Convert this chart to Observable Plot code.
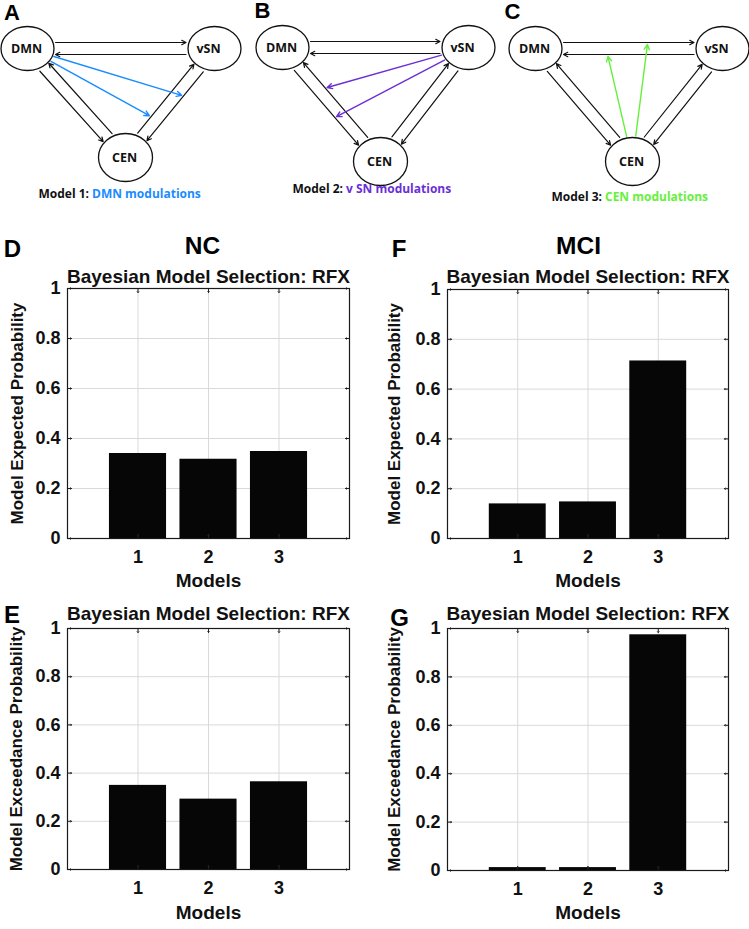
<!DOCTYPE html>
<html><head><meta charset="utf-8">
<script src="https://cdn.jsdelivr.net/npm/d3@7"></script>
<script src="https://cdn.jsdelivr.net/npm/@observablehq/plot@0.6"></script>
<style>
html,body{margin:0;padding:0;background:#fff;}
#root{position:relative;width:749px;height:929px;overflow:hidden;background:#fff;}
.panel{position:absolute;}
.panel svg{display:block;overflow:visible;}
</style></head><body><div id="root"></div>
<script>
// ---------------- data ----------------
const models = [1, 2, 3];
const modelTickLabels = ["1", "2", "3"];
const yTicks = [0, 0.2, 0.4, 0.6, 0.8, 1];
const ncExpected = [0.340, 0.317, 0.348];
const ncExceedance = [0.349, 0.292, 0.364];
const mciExpected = [0.139, 0.147, 0.713];
const mciExceedance = [0.012, 0.012, 0.974];
const plotTitle = "Bayesian Model Selection: RFX";
const xLabel = "Models";
const yLabelExpected = "Model Expected Probability";
const yLabelExceedance = "Model Exceedance Probability";

// network diagrams
const nodeNames = ["DMN", "vSN", "CEN"];
const nodes = [
  {panel: "A", name: "DMN", x: 27, y: 48},
  {panel: "A", name: "vSN", x: 214, y: 48},
  {panel: "A", name: "CEN", x: 125, y: 157},
  {panel: "B", name: "DMN", x: 282, y: 47},
  {panel: "B", name: "vSN", x: 468, y: 47},
  {panel: "B", name: "CEN", x: 380, y: 161},
  {panel: "C", name: "DMN", x: 535, y: 48},
  {panel: "C", name: "vSN", x: 722, y: 48},
  {panel: "C", name: "CEN", x: 632, y: 161}
];
const connections = [
  {from: "DMN", to: "vSN", side: -1},
  {from: "vSN", to: "DMN", side: 1},
  {from: "DMN", to: "CEN", side: 1},
  {from: "CEN", to: "DMN", side: -1},
  {from: "CEN", to: "vSN", side: 1},
  {from: "vSN", to: "CEN", side: -1}
];
const modulations = [
  {panel: "A", from: "DMN", on: ["vSN", "CEN"], t: 0.40},
  {panel: "A", from: "DMN", on: ["CEN", "vSN"], t: 0.34},
  {panel: "B", from: "vSN", on: ["CEN", "DMN"], t: 0.61},
  {panel: "B", from: "vSN", on: ["DMN", "CEN"], t: 0.58},
  {panel: "C", from: "CEN", on: ["vSN", "DMN"], t: 0.615},
  {panel: "C", from: "CEN", on: ["DMN", "vSN"], t: 0.60}
];
const panelColors = {A: "#1a8cff", B: "#6b2fd6", C: "#66f03c"};
const captions = [
  {panel: "A", prefix: "Model 1:", name: "DMN modulations", x: 90, y: 194},
  {panel: "B", prefix: "Model 2:", name: "v SN modulations", x: 344, y: 189},
  {panel: "C", prefix: "Model 3:", name: "CEN modulations", x: 603, y: 197}
];
const panelLetters = [
  {letter: "A", x: 11.5, y: 12.5},
  {letter: "B", x: 262, y: 10.5},
  {letter: "C", x: 512, y: 11}
];

// ---------------- geometry helpers ----------------
const nodeRadii = {DMN: [26.5, 22], vSN: [27, 22], CEN: [27, 24]};
const ellipseSymbol = (rx, ry) => ({
  draw(ctx) {
    const k = 0.5523;
    ctx.moveTo(rx, 0);
    ctx.bezierCurveTo(rx, ry * k, rx * k, ry, 0, ry);
    ctx.bezierCurveTo(-rx * k, ry, -rx, ry * k, -rx, 0);
    ctx.bezierCurveTo(-rx, -ry * k, -rx * k, -ry, 0, -ry);
    ctx.bezierCurveTo(rx * k, -ry, rx, -ry * k, rx, 0);
    ctx.closePath();
  }
});
const P = (panel, name) => nodes.find(n => n.panel === panel && n.name === name);
const rad = (name, ux, uy) => {
  const [rx, ry] = nodeRadii[name];
  return 1 / Math.sqrt((ux / rx) ** 2 + (uy / ry) ** 2);
};
const OFF = 6;
function pairNormal(panel, a, b) {
  const [ca, cb] = nodeNames.indexOf(a) < nodeNames.indexOf(b) ? [a, b] : [b, a];
  const A = P(panel, ca), B = P(panel, cb);
  const L = Math.hypot(B.x - A.x, B.y - A.y);
  const dx = (B.x - A.x) / L, dy = (B.y - A.y) / L;
  return [-dy, dx];
}
const panels = ["A", "B", "C"];
const blackArrows = [];
for (const p of panels) {
  for (const c of connections) {
    const F = P(p, c.from), T = P(p, c.to);
    const L = Math.hypot(T.x - F.x, T.y - F.y);
    const ux = (T.x - F.x) / L, uy = (T.y - F.y) / L;
    const [nx, ny] = pairNormal(p, c.from, c.to);
    const o = c.side * OFF;
    const r1 = rad(c.from, ux, uy) + 1.5, r2 = rad(c.to, ux, uy) + 1.5;
    blackArrows.push({
      x1: F.x + nx * o + ux * r1, y1: F.y + ny * o + uy * r1,
      x2: T.x + nx * o - ux * r2, y2: T.y + ny * o - uy * r2
    });
  }
}
const colorArrows = modulations.map(m => {
  const c = connections.find(c => c.from === m.on[0] && c.to === m.on[1]);
  const A = P(m.panel, m.on[0]), B = P(m.panel, m.on[1]);
  const [nx, ny] = pairNormal(m.panel, m.on[0], m.on[1]);
  const o = c.side * OFF;
  const tx = A.x + (B.x - A.x) * m.t + nx * o, ty = A.y + (B.y - A.y) * m.t + ny * o;
  const S = P(m.panel, m.from);
  const L = Math.hypot(tx - S.x, ty - S.y);
  const vx = (tx - S.x) / L, vy = (ty - S.y) / L;
  const r = rad(m.from, vx, vy) + 1.5;
  return {x1: S.x + vx * r, y1: S.y + vy * r, x2: tx - vx * 2, y2: ty - vy * 2, color: panelColors[m.panel]};
});

// ---------------- layout ----------------
const root = document.getElementById("root");
function place(svg, left, top) {
  const d = document.createElement("div");
  d.className = "panel";
  d.style.left = left + "px";
  d.style.top = top + "px";
  d.appendChild(svg);
  root.appendChild(d);
}

// diagrams
const sansUI = "'Open Sans', 'Noto Sans', sans-serif";
const arial = "'Liberation Sans', Arial, sans-serif";
const diagram = Plot.plot({
  width: 749, height: 205, margin: 0,
  x: {type: "identity"}, y: {type: "identity"}, color: {type: "identity"},
  style: {background: "white"},
  marks: [
    Plot.arrow(blackArrows, {x1: "x1", y1: "y1", x2: "x2", y2: "y2", stroke: "#111", strokeWidth: 1.2, headLength: 6, headAngle: 55}),
    Plot.arrow(colorArrows, {x1: "x1", y1: "y1", x2: "x2", y2: "y2", stroke: "color", strokeWidth: 1.4, headLength: 6, headAngle: 55}),
    Plot.dot(nodes.filter(n => n.name !== "CEN"), {x: "x", y: "y", symbol: ellipseSymbol(26.5, 22), r: 5, stroke: "#111", strokeWidth: 1.3, fill: "none"}),
    Plot.dot(nodes.filter(n => n.name === "CEN"), {x: "x", y: "y", symbol: ellipseSymbol(27, 24), r: 5, stroke: "#111", strokeWidth: 1.3, fill: "none"}),
    Plot.text(nodes, {x: d => d.name === "vSN" ? d.x - 6 : d.x - 1, y: "y", text: "name", fontFamily: sansUI, fontWeight: "bold", fontSize: 12.5, fill: "#111"}),
    Plot.text(captions, {x: d => d.x - 1.5, y: "y", text: "prefix", textAnchor: "end", fontFamily: sansUI, fontWeight: "bold", fontSize: 12, fill: "#111"}),
    Plot.text(captions, {x: d => d.x + 1.5, y: "y", text: "name", textAnchor: "start", fontFamily: sansUI, fontWeight: "bold", fontSize: 12, fill: d => panelColors[d.panel]}),
    Plot.text(panelLetters, {x: "x", y: "y", text: "letter", fontFamily: arial, fontWeight: "bold", fontSize: 22, fill: "#000"})
  ]
});
place(diagram, 0, 0);

// bar charts
const barHalf = 0.405;
function barPanel(o) {
  const data = models.map((m, i) => ({model: m, value: o.values[i]}));
  const txt = {fontFamily: arial, fontWeight: "bold", fill: "#111"};
  const tick = {length: 4, anchor: "start", stroke: "#222", strokeWidth: 1};
  const marks = [
    Plot.gridY(yTicks, {stroke: "#d9d9d9", strokeOpacity: 1}),
    Plot.gridX(models, {stroke: "#d9d9d9", strokeOpacity: 1}),
    Plot.rectY(data, {x1: d => d.model - barHalf, x2: d => d.model + barHalf, y1: 0, y2: "value", fill: "#060606"}),
    // inward tick marks on all four sides of the box
    Plot.vector(yTicks, {x: 0, y: d => d, rotate: 90, ...tick}),
    Plot.vector(yTicks, {x: 4, y: d => d, rotate: -90, ...tick}),
    Plot.vector(models, {x: d => d, y: 0, rotate: 0, ...tick}),
    Plot.vector(models, {x: d => d, y: 1, rotate: 180, ...tick}),
    Plot.frame({stroke: "#1a1a1a", strokeWidth: 1.2}),
    Plot.axisY(yTicks, {anchor: "left", tickSize: 0, tickPadding: 7, tickFormat: d => String(d), label: null, fontSize: 18, ...txt}),
    Plot.axisX(models, {anchor: "bottom", tickSize: 0, tickPadding: 12, tickFormat: d => modelTickLabels[models.indexOf(d)], label: null, fontSize: 18, ...txt}),
    Plot.text([plotTitle], {text: d => d, frameAnchor: "top", textAnchor: "middle", dy: o.titleDy, lineAnchor: "middle", fontSize: 19, ...txt}),
    Plot.text([xLabel], {text: d => d, frameAnchor: "bottom", textAnchor: "middle", dy: o.xLabelDy, lineAnchor: "middle", fontSize: 19, ...txt}),
    Plot.text([o.yLabel], {text: d => d, frameAnchor: "left", textAnchor: "middle", rotate: -90, dx: o.yLabelDx, lineAnchor: "middle", fontSize: 17, ...txt}),
    Plot.text([o.letter], {text: d => d, frameAnchor: "top-left", textAnchor: "middle", dx: o.letterDx, dy: o.letterDy, lineAnchor: "middle", fontSize: 24, ...txt, fill: "#000"})
  ];
  if (o.group) marks.push(Plot.text([o.group], {text: d => d, frameAnchor: "top", textAnchor: "middle", dx: o.groupDx, dy: o.groupDy, lineAnchor: "middle", fontSize: 24.5, ...txt, fill: "#000"}));
  return Plot.plot({
    width: o.width, height: o.height,
    marginLeft: o.ml, marginRight: o.mr, marginTop: o.mt, marginBottom: o.mb,
    x: {domain: [0, 4]}, y: {domain: [0, 1]},
    style: {background: "white"},
    marks
  });
}

place(barPanel({values: ncExpected, yLabel: yLabelExpected, letter: "D", group: "NC",
  width: 370, height: 387, ml: 67, mr: 21, mt: 83, mb: 54,
  titleDy: -12, xLabelDy: 42, yLabelDx: -50, letterDx: -55, letterDy: -39.5, groupDx: -6, groupDy: -42}), 0, 205);

place(barPanel({values: ncExceedance, yLabel: yLabelExceedance, letter: "E",
  width: 370, height: 337, ml: 67, mr: 21, mt: 36, mb: 60,
  titleDy: -14.5, xLabelDy: 43.5, yLabelDx: -51, letterDx: -55.5, letterDy: -13.5}), 0, 592);

place(barPanel({values: mciExpected, yLabel: yLabelExpected, letter: "F", group: "MCI",
  width: 379, height: 387, ml: 77, mr: 21, mt: 84, mb: 54,
  titleDy: -13, xLabelDy: 42, yLabelDx: -53, letterDx: -48.5, letterDy: -40.5, groupDx: -9.5, groupDy: -43}), 370, 205);

place(barPanel({values: mciExceedance, yLabel: yLabelExceedance, letter: "G",
  width: 379, height: 337, ml: 77, mr: 21, mt: 36, mb: 59,
  titleDy: -14.5, xLabelDy: 42.5, yLabelDx: -53, letterDx: -48, letterDy: -10.5}), 370, 592);
</script>
</body></html>
